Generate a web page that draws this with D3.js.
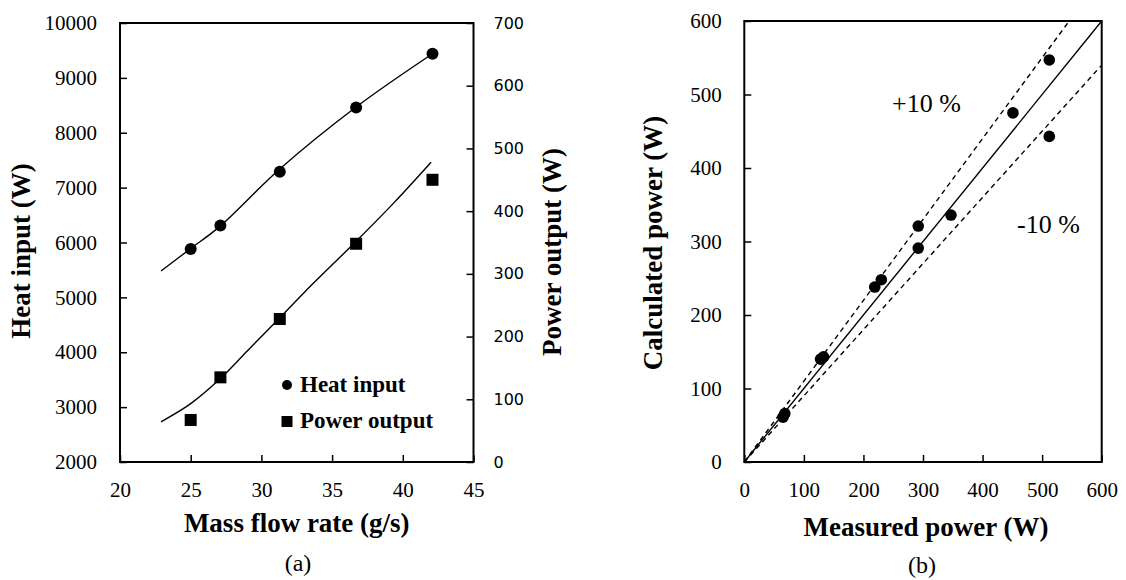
<!DOCTYPE html>
<html>
<head>
<meta charset="utf-8">
<script src="https://cdn.jsdelivr.net/npm/d3@7"></script>
<style>
  body { margin: 0; background: #fff; }
  svg { display: block; }
</style>
</head>
<body>
<script>
// (a) heat input / power output vs mass flow rate
var massFlow = [25, 27.1, 31.3, 36.7, 42.1];
var heatInput = [5880, 6310, 7290, 8460, 9440];
var powerOutput = [67, 135, 228, 348, 450];

// fitted curves
var heatFitX = [22.9, 25, 27, 31.3, 36.7, 42.1];
var heatFitY = [5480, 5890, 6280, 7340, 8470, 9440];
var powerFitX = [22.9, 25, 27, 29, 31.3, 33.1, 36.7, 39.4, 42];
var powerFitY = [64, 93, 131, 177, 230, 272, 352, 414, 478];

var massTicks = [20, 25, 30, 35, 40, 45];
var heatTicks = [2000, 3000, 4000, 5000, 6000, 7000, 8000, 9000, 10000];
var powerTicks = [0, 100, 200, 300, 400, 500, 600, 700];

// (b) calculated vs measured power
var measuredPower = [65, 68, 128, 133, 219, 230, 292, 292, 347, 451, 512, 512];
var calculatedPower = [61, 66, 140, 143, 238, 248, 291, 321, 336, 475, 547, 443];
var parityTicks = [0, 100, 200, 300, 400, 500, 600];
var bandSlopes = [1.1, 0.9];

var w = 1126;
var h = 580;
var serif = "'Liberation Serif', 'Times New Roman', serif";

var svg = d3.select("body").append("svg").attr("width", w).attr("height", h);

function styleTicks(g, family, size) {
    g.attr("font-family", family).attr("font-size", size);
    g.selectAll("text").attr("fill", "#000");
    g.selectAll("line").attr("stroke", "#000").attr("stroke-width", 1.5);
    g.select(".domain").remove();
}

// ---------- chart (a) ----------
var ax = { left: 120, right: 473.5, top: 23, bottom: 462 };

var xA = d3.scaleLinear().domain([20, 45]).range([ax.left, ax.right]);
var yHeat = d3.scaleLinear().domain([2000, 10000]).range([ax.bottom, ax.top]);
var yPower = d3.scaleLinear().domain([0, 700]).range([ax.bottom, ax.top]);

var gA = svg.append("g");

gA.append("g")
    .attr("transform", "translate(0," + ax.bottom + ")")
    .call(d3.axisBottom(xA).tickValues(massTicks).tickSizeInner(-7).tickSizeOuter(0).tickPadding(20))
    .call(styleTicks, serif, 21);

gA.append("g")
    .attr("transform", "translate(" + ax.left + ",0)")
    .call(d3.axisLeft(yHeat).tickValues(heatTicks).tickFormat(d3.format("d"))
        .tickSizeInner(-7).tickSizeOuter(0).tickPadding(23))
    .call(styleTicks, serif, 21);

gA.append("g")
    .attr("transform", "translate(" + ax.right + ",0)")
    .call(d3.axisRight(yPower).tickValues(powerTicks).tickSizeInner(-7).tickSizeOuter(0).tickPadding(20))
    .call(styleTicks, "'DejaVu Sans', sans-serif", 16);

gA.append("rect")
    .attr("x", ax.left).attr("y", ax.top)
    .attr("width", ax.right - ax.left).attr("height", ax.bottom - ax.top)
    .attr("fill", "none").attr("stroke", "#000").attr("stroke-width", 2);

var heatLine = d3.line()
    .x(function (d) { return xA(d[0]); })
    .y(function (d) { return yHeat(d[1]); })
    .curve(d3.curveCatmullRom);

var powerLine = d3.line()
    .x(function (d) { return xA(d[0]); })
    .y(function (d) { return yPower(d[1]); })
    .curve(d3.curveCatmullRom);

gA.append("path")
    .attr("d", heatLine(d3.zip(heatFitX, heatFitY)))
    .attr("fill", "none").attr("stroke", "#000").attr("stroke-width", 1.4);

gA.append("path")
    .attr("d", powerLine(d3.zip(powerFitX, powerFitY)))
    .attr("fill", "none").attr("stroke", "#000").attr("stroke-width", 1.4);

gA.selectAll("circle.heat")
    .data(d3.zip(massFlow, heatInput))
    .enter().append("circle")
    .attr("class", "heat")
    .attr("cx", function (d) { return xA(d[0]); })
    .attr("cy", function (d) { return yHeat(d[1]); })
    .attr("r", 6)
    .attr("fill", "#000");

gA.selectAll("rect.power")
    .data(d3.zip(massFlow, powerOutput))
    .enter().append("rect")
    .attr("class", "power")
    .attr("x", function (d) { return xA(d[0]) - 6; })
    .attr("y", function (d) { return yPower(d[1]) - 6; })
    .attr("width", 12).attr("height", 12)
    .attr("fill", "#000");

// legend
gA.append("circle").attr("cx", 287).attr("cy", 385).attr("r", 5).attr("fill", "#000");
gA.append("rect").attr("x", 281.5).attr("y", 416).attr("width", 11).attr("height", 11).attr("fill", "#000");
gA.append("text").attr("x", 300).attr("y", 392)
    .attr("font-family", serif).attr("font-size", 23).attr("font-weight", "bold")
    .text("Heat input");
gA.append("text").attr("x", 300).attr("y", 428)
    .attr("font-family", serif).attr("font-size", 23).attr("font-weight", "bold")
    .text("Power output");

// axis titles
gA.append("text")
    .attr("x", (ax.left + ax.right) / 2).attr("y", 532)
    .attr("text-anchor", "middle")
    .attr("font-family", serif).attr("font-size", 27).attr("font-weight", "bold")
    .text("Mass flow rate (g/s)");

gA.append("text")
    .attr("transform", "translate(30,251) rotate(-90)")
    .attr("text-anchor", "middle")
    .attr("font-family", serif).attr("font-size", 27).attr("font-weight", "bold")
    .text("Heat input (W)");

gA.append("text")
    .attr("transform", "translate(561,252) rotate(-90)")
    .attr("text-anchor", "middle")
    .attr("font-family", serif).attr("font-size", 27).attr("font-weight", "bold")
    .text("Power output (W)");

gA.append("text")
    .attr("x", 298).attr("y", 571)
    .attr("text-anchor", "middle")
    .attr("font-family", serif).attr("font-size", 24)
    .text("(a)");

// ---------- chart (b) ----------
var bx = { left: 744.3, right: 1101.7, top: 21, bottom: 462 };

var xB = d3.scaleLinear().domain([0, 600]).range([bx.left, bx.right]);
var yB = d3.scaleLinear().domain([0, 600]).range([bx.bottom, bx.top]);

var gB = svg.append("g");

gB.append("g")
    .attr("transform", "translate(0," + bx.bottom + ")")
    .call(d3.axisBottom(xB).tickValues(parityTicks).tickSizeInner(-7).tickSizeOuter(0).tickPadding(20))
    .call(styleTicks, serif, 21);

gB.append("g")
    .attr("transform", "translate(" + bx.left + ",0)")
    .call(d3.axisLeft(yB).tickValues(parityTicks).tickSizeInner(-7).tickSizeOuter(0).tickPadding(22.6))
    .call(styleTicks, serif, 21);

gB.append("rect")
    .attr("x", bx.left).attr("y", bx.top)
    .attr("width", bx.right - bx.left).attr("height", bx.bottom - bx.top)
    .attr("fill", "none").attr("stroke", "#000").attr("stroke-width", 2);

// y = x
gB.append("line")
    .attr("x1", xB(0)).attr("y1", yB(0))
    .attr("x2", xB(600)).attr("y2", yB(600))
    .attr("stroke", "#000").attr("stroke-width", 1.4);

// +/- 10 % bands
gB.selectAll("line.band")
    .data(bandSlopes)
    .enter().append("line")
    .attr("class", "band")
    .attr("x1", xB(0)).attr("y1", yB(0))
    .attr("x2", function (k) { return xB(Math.min(600, 600 / k)); })
    .attr("y2", function (k) { return yB(Math.min(600, 600 * k)); })
    .attr("stroke", "#000").attr("stroke-width", 1.4)
    .attr("stroke-dasharray", "5,4");

gB.selectAll("circle.pt")
    .data(d3.zip(measuredPower, calculatedPower))
    .enter().append("circle")
    .attr("class", "pt")
    .attr("cx", function (d) { return xB(d[0]); })
    .attr("cy", function (d) { return yB(d[1]); })
    .attr("r", 5.8)
    .attr("fill", "#000");

gB.append("text")
    .attr("x", xB(248)).attr("y", yB(476))
    .attr("font-family", serif).attr("font-size", 26)
    .text("+10 %");

gB.append("text")
    .attr("x", xB(458)).attr("y", yB(312))
    .attr("font-family", serif).attr("font-size", 26)
    .text("-10 %");

gB.append("text")
    .attr("x", 926).attr("y", 536)
    .attr("text-anchor", "middle")
    .attr("font-family", serif).attr("font-size", 27).attr("font-weight", "bold")
    .text("Measured power (W)");

gB.append("text")
    .attr("transform", "translate(662,243) rotate(-90)")
    .attr("text-anchor", "middle")
    .attr("font-family", serif).attr("font-size", 27).attr("font-weight", "bold")
    .text("Calculated power (W)");

gB.append("text")
    .attr("x", 922).attr("y", 573)
    .attr("text-anchor", "middle")
    .attr("font-family", serif).attr("font-size", 24)
    .text("(b)");
</script>
</body>
</html>
